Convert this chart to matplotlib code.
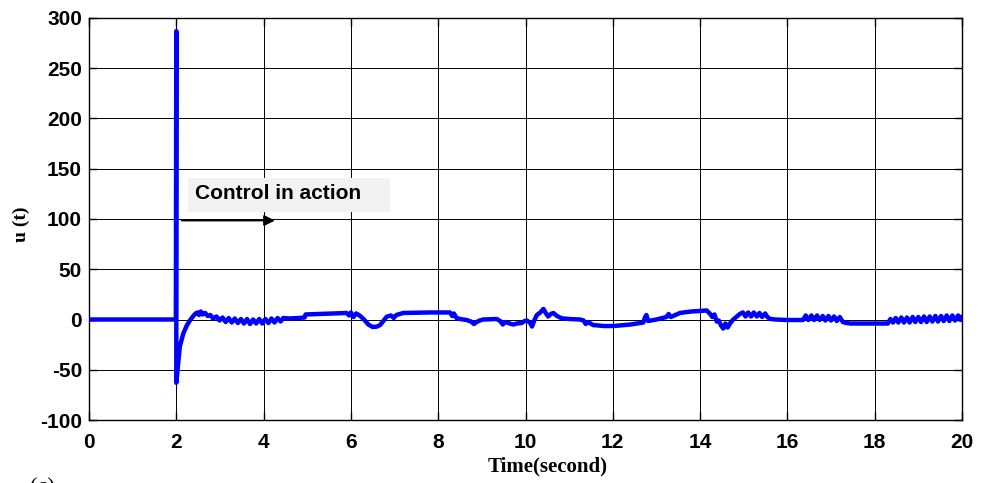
import matplotlib
matplotlib.use("Agg")
import matplotlib.pyplot as plt
from matplotlib.patches import Rectangle

plt.rcParams["axes.unicode_minus"] = False

# ---- data ----
time_s = [0, 1.99, 2.0, 2.0, 2.04, 2.08, 2.16, 2.24, 2.31, 2.38, 2.43, 2.48, 2.52, 2.56, 2.60,
          2.66, 2.72, 2.78, 2.84,
          2.92, 2.99, 3.06, 3.13, 3.20, 3.27, 3.34, 3.41, 3.48, 3.55, 3.62, 3.69, 3.76, 3.83,
          3.90, 3.97, 4.04, 4.11, 4.18, 4.25, 4.32, 4.39, 4.45,
          4.6, 4.8, 4.94, 4.96, 5.3, 5.6, 5.9, 5.96, 6.0, 6.06, 6.12, 6.2, 6.3, 6.4, 6.5, 6.6,
          6.67, 6.75, 6.82, 6.92, 6.98, 7.04, 7.2, 7.8, 8.27, 8.32, 8.36, 8.42, 8.5, 8.65, 8.75,
          8.82, 8.88, 8.95, 9.03, 9.34, 9.42, 9.48, 9.53, 9.6, 9.72, 9.8, 9.91, 9.98, 10.03,
          10.1, 10.15, 10.2, 10.26, 10.34, 10.41, 10.47, 10.52, 10.58, 10.64, 10.72, 10.83,
          11.0, 11.25, 11.33, 11.38, 11.43, 11.55, 11.8, 12.01, 12.4, 12.7, 12.74, 12.77, 12.81,
          13.0, 13.23, 13.28, 13.33, 13.54, 13.8, 14.0, 14.15, 14.22, 14.28, 14.33, 14.38, 14.43,
          14.48, 14.53, 14.58, 14.63, 14.7, 14.76, 14.84, 14.91,
          14.98, 15.04, 15.1, 15.17, 15.23, 15.3, 15.36, 15.42, 15.49, 15.55, 15.62, 15.72,
          16.0, 16.36,
          16.42, 16.48, 16.55, 16.61, 16.68, 16.74, 16.81, 16.87, 16.94, 17.0, 17.07, 17.13,
          17.2, 17.27, 17.35, 17.45, 18.0, 18.3,
          18.36, 18.42, 18.48, 18.54, 18.61, 18.67, 18.74, 18.80, 18.87, 18.93, 19.0, 19.06,
          19.13, 19.19, 19.26, 19.32, 19.39, 19.45, 19.52, 19.58, 19.65, 19.71, 19.78, 19.84,
          19.91, 19.97, 20.0]

u_t = [0, 0, 287, -63, -45, -27, -14, -6, -1, 3, 5.5, 7, 4.5, 8, 5,
       6.5, 3.5, 4.5, 1,
       3, -1, 2, -2.5, 1.5, -3, 1, -3.5, 0.5, -4, 0.5, -4.5, 0, -4,
       0.5, -4, 0.5, -3.5, 1, -3, 1.5, -2, 1.5,
       1, 1.5, 2, 5, 5.5, 6, 6.5, 4, 7, 2.5, 6, 4, 0, -5, -7.5, -7,
       -5.5, -1, 2.8, 4, 1.5, 4.5, 6.5, 7, 7, 3.5, 6, 1.5, 0.5, -0.5, -2,
       -4.5, -2.5, -1, 0, 0.5, -1.5, -5, -2.5, -3.5, -5, -4, -3.5, -1.5, -1,
       -3, -7, -1, 4.5, 7, 10.5, 6, 3, 5.5, 6.5, 3.5, 1.2,
       0.5, 0, -1, -4.5, -2.5, -5.5, -6.5, -6.5, -5, -3, 2.5, 4.5, -1.5,
       0, 2.5, 5.5, 2.5, 6.5, 8, 8.5, 9, 6, 2.5, 5, -2, -1,
       -6, -9, -4, -8, -3, 0, 3, 5.5,
       7, 3, 7, 3, 7, 3, 6.5, 2.5, 6, 2, 0.5, 0,
       -0.5, -0.5,
       4, -0.5, 4, -0.5, 4, -0.5, 3.5, -1, 3.5, -1, 3, -1.5,
       2.5, -2.5, -3.5, -4, -4, -4,
       0.5, -3, 1.5, -3, 2, -3, 2, -3, 2.5, -2.5, 2.5, -2.5,
       3, -2.5, 3, -2, 3.5, -2, 3.5, -1.5, 4, -1.5, 4, -1,
       4, -0.5, 3]

x_ticks = [0, 2, 4, 6, 8, 10, 12, 14, 16, 18, 20]
y_ticks = [-100, -50, 0, 50, 100, 150, 200, 250, 300]
annotation_text = "Control in action"
x_label = "Time(second)"
y_label = "u (t)"

# ---- figure ----
fig = plt.figure(figsize=(9.88, 4.83), dpi=100)
ax = fig.add_axes([89 / 988, 1 - 420 / 483, 873 / 988, 402 / 483])

ax.set_xlim(0, 20)
ax.set_ylim(-100, 300)
ax.set_xticks(x_ticks)
ax.set_yticks(y_ticks)
ax.grid(True, color="black", linewidth=0.7, zorder=0)
ax.set_axisbelow(True)

ax.plot(time_s, u_t, color="#0000ff", linewidth=3.2, solid_joinstyle="round",
        solid_capstyle="round", zorder=3)

# annotation box and arrow
ax.add_patch(Rectangle((2.27, 107), 4.63, 34, facecolor="#f2f2f2", edgecolor="none", zorder=2))
ax.text(2.42, 125.5, annotation_text, fontsize=15, fontweight="bold",
        family="Liberation Sans", va="center", ha="left", zorder=4)
ax.annotate("", xy=(4.26, 98.5), xytext=(2.12, 98.5),
            arrowprops=dict(arrowstyle="-|>", color="black", lw=1.3,
                            mutation_scale=16, shrinkA=0, shrinkB=0), zorder=4)

for sp in ax.spines.values():
    sp.set_linewidth(1.0)
    sp.set_color("black")

ax.tick_params(axis="both", direction="in", length=6, width=1, top=True, right=True)
ax.tick_params(axis="y", pad=5)
ax.tick_params(axis="x", pad=9)
for lab in ax.get_yticklabels():
    lab.set_fontfamily("Liberation Sans")
    lab.set_fontweight("bold")
    lab.set_fontsize(15)
for lab in ax.get_xticklabels():
    lab.set_fontfamily("Liberation Sans")
    lab.set_fontweight("bold")
    lab.set_fontsize(15)

ax.set_xlabel(x_label, fontsize=15, fontweight="bold", family="Liberation Serif")
ax.xaxis.set_label_coords((548 - 89) / 873, (420 - 456) / 402)
ax.set_ylabel(y_label, fontsize=14, fontweight="bold", family="Liberation Serif")
ax.yaxis.set_label_coords((30 - 89) / 873, (420 - 224) / 402)

fig.text(30 / 988, 5 / 483, "(c)", fontsize=16, family="Liberation Serif", va="top", ha="left")

fig.savefig("out.png", dpi=100)
